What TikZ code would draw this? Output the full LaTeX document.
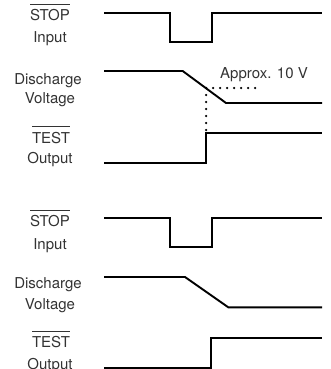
\documentclass[tikz,border=0pt]{standalone}
\usepackage{fontspec}
\setmainfont{TeX Gyre Heros}
\newcommand\barred[1]{\vbox{\hrule height 1pt \kern 4.5pt \hbox{#1}}}
\tikzset{
  wave/.style={line width=1.9pt, line join=miter},
  dots/.style={line width=2.5pt, line cap=round, dash pattern=on 0pt off 7pt},
  lbl/.style={font=\fontsize{15}{18}\selectfont, text=black!80, anchor=base, inner sep=0pt},
}

\begin{document}
\begin{tikzpicture}[x=1pt,y=-1pt]
  \useasboundingbox (0,0) rectangle (330,369);

  % upper panel
  \node[lbl] (stopA) at (50,21)    {\barred{STOP}};
  \node[lbl] (inA)   at (50,43)    {Input};
  \node[lbl] (disA)  at (48,84)    {Discharge};
  \node[lbl] (volA)  at (50,103.5) {Voltage};
  \node[lbl] (testA) at (51,143)   {\barred{TEST}};
  \node[lbl] (outA)  at (50,163)   {Output};
  \node[lbl] (apx)   at (264,78)   {Approx. 10 V};

  \coordinate (kA) at (206,88);
  \coordinate (kB) at (262,88);
  \coordinate (kC) at (206,131);

  \draw[wave] (104,12.7) -- (170,12.7) -- (170,42) -- (211.7,42)
    -- (211.7,12.7) -- (322,12.7);
  \draw[wave] (104,71) -- (182.7,71) -- (226,103) -- (322,103);
  \draw[wave] (104,163) -- (206.3,163) -- (206.3,133.3) -- (322,133.3);
  \draw[dots] (kA) -- (kB);
  \draw[dots] (kA) -- (kC);

  % lower panel
  \node[lbl] (stopB) at (50,226.7) {\barred{STOP}};
  \node[lbl] (inB)   at (50,249)   {Input};
  \node[lbl] (disB)  at (48,288)   {Discharge};
  \node[lbl] (volB)  at (50,309)   {Voltage};
  \node[lbl] (testB) at (51,347.5) {\barred{TEST}};
  \node[lbl] (outB)  at (50,369)   {Output};

  \draw[wave] (104,217.7) -- (170,217.7) -- (170,246.7) -- (211.7,246.7)
    -- (211.7,217.7) -- (322,217.7);
  \draw[wave] (104,277) -- (185,277) -- (228.3,307.3) -- (322,307.3);
  \draw[wave] (104,367.7) -- (210.7,367.7) -- (210.7,338.3) -- (322,338.3);

\end{tikzpicture}
\end{document}
